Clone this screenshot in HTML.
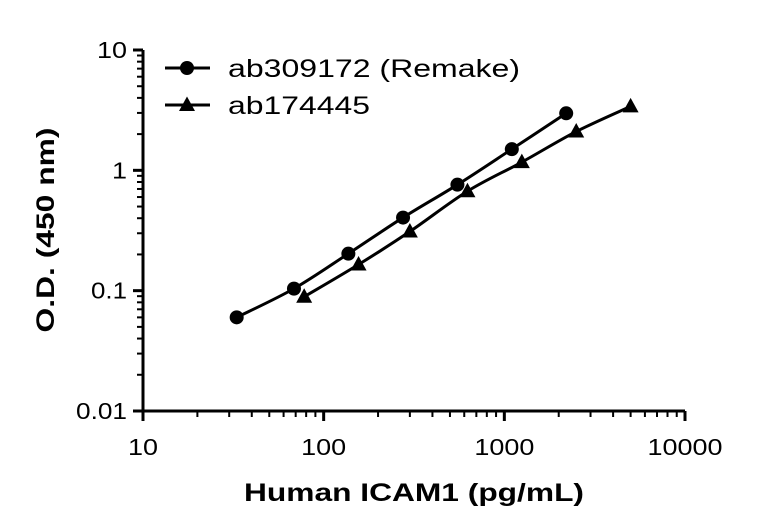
<!DOCTYPE html>
<html><head><meta charset="utf-8"><style>
body{margin:0;background:#fff;}
svg{display:block;font-family:"Liberation Sans",sans-serif;}
</style></head><body>
<svg id="chart" width="768" height="529"></svg>
<script>
const xTicks=[10,100,1000,10000];
const xTickLabels=["10","100","1000","10000"];
const yTicks=[0.01,0.1,1,10];
const yTickLabels=["0.01","0.1","1","10"];
const seriesNames=["ab309172 (Remake)","ab174445"];
const s1x=[33,68.5,137,275,550,1100,2200];
const s1y=[0.06,0.104,0.203,0.405,0.76,1.5,2.98];
const s2x=[78,156,300,625,1250,2500,5000];
const s2y=[0.089,0.165,0.31,0.67,1.17,2.1,3.4];

const NS="http://www.w3.org/2000/svg";
const svg=document.getElementById('chart');
const X0=143,X1=685,Y0=411,Y1=50;
const xs=v=>X0+(Math.log10(v)-1)/3*(X1-X0);
const ys=v=>Y0-(Math.log10(v)+2)/3*(Y0-Y1);
function mk(t,a,p){const e=document.createElementNS(NS,t);for(const k in a)e.setAttribute(k,a[k]);(p||svg).appendChild(e);return e;}
const lw=s=>[...s].reduce((a,c)=>a+(c=='.'?6:15),0);
let e;
e=mk('line',{x1:X0,y1:Y1,x2:X0,y2:Y0+1.5,stroke:'#000','stroke-width':3});

e=mk('line',{x1:X0-1.5,y1:Y0,x2:X1,y2:Y0,stroke:'#000','stroke-width':3});

for(let d=0;d<3;d++){for(let m=2;m<10;m++){
 const xv=Math.pow(10,d+1)*m,yv=Math.pow(10,d-2)*m;
 e=mk('line',{x1:xs(xv),y1:Y0,x2:xs(xv),y2:Y0+6,stroke:'#000','stroke-width':2});
 
 e=mk('line',{x1:X0-6,y1:ys(yv),x2:X0,y2:ys(yv),stroke:'#000','stroke-width':2});
 
}}
xTicks.forEach((v,i)=>{
 e=mk('line',{x1:xs(v),y1:Y0,x2:xs(v),y2:Y0+10,stroke:'#000','stroke-width':3});
 
 e=mk('text',{x:xs(v),y:Y0+44,'text-anchor':'middle','font-size':23,textLength:lw(xTickLabels[i]),lengthAdjust:'spacingAndGlyphs'});e.textContent=xTickLabels[i];
 
});
yTicks.forEach((v,i)=>{
 e=mk('line',{x1:X0-10,y1:ys(v),x2:X0,y2:ys(v),stroke:'#000','stroke-width':3});
 
 e=mk('text',{x:X0-16,y:ys(v)+8,'text-anchor':'end','font-size':23,textLength:lw(yTickLabels[i]),lengthAdjust:'spacingAndGlyphs'});e.textContent=yTickLabels[i];
 
});
e=mk('text',{x:414,y:501,'text-anchor':'middle','font-size':25,'font-weight':'bold',textLength:340,lengthAdjust:'spacingAndGlyphs'});e.textContent='Human ICAM1 (pg/mL)';

e=mk('text',{x:0,y:0,'text-anchor':'middle','font-size':25,'font-weight':'bold',textLength:205,lengthAdjust:'spacingAndGlyphs',transform:'translate(54,230) rotate(-90)'});e.textContent='O.D. (450 nm)';


function path(xa,ya){
 const p=xa.map((x,i)=>[xs(x),ys(ya[i])]);
 let d='M'+p[0][0]+','+p[0][1];
 for(let i=0;i<p.length-1;i++){
  const a=p[Math.max(i-1,0)],b=p[i],c=p[i+1],n=p[Math.min(i+2,p.length-1)];
  d+=' C'+(b[0]+(c[0]-a[0])/6)+','+(b[1]+(c[1]-a[1])/6)+' '+(c[0]-(n[0]-b[0])/6)+','+(c[1]-(n[1]-b[1])/6)+' '+c[0]+','+c[1];
 }
 return d;
}
function tri(x,y,g){return mk('polygon',{points:`${x},${y-8.5} ${x-8},${y+6} ${x+8},${y+6}`,fill:'#000'},g);}
const g1=mk('g',{});
e=mk('path',{d:path(s1x,s1y),fill:'none',stroke:'#000','stroke-width':3},g1);

s1x.forEach((x,i)=>{e=mk('circle',{cx:xs(x),cy:ys(s1y[i]),r:7,fill:'#000'},g1);
 });
const g2=mk('g',{});
e=mk('path',{d:path(s2x,s2y),fill:'none',stroke:'#000','stroke-width':3},g2);

s2x.forEach((x,i)=>{e=tri(xs(x),ys(s2y[i]),g2);
 });
const lg=mk('g',{});
const legLen=[292,142];
[0,1].forEach(i=>{
 const y=i?105:68;
 const it=mk('g',{},lg);
 mk('line',{x1:165,y1:y,x2:210,y2:y,stroke:'#000','stroke-width':3},it);
 if(i==0)mk('circle',{cx:187,cy:y,r:7,fill:'#000'},it);else tri(187,y,it);
 const t=mk('text',{x:228,y:y+9,'font-size':25,textLength:legLen[i],lengthAdjust:'spacingAndGlyphs'},it);t.textContent=seriesNames[i];
});
</script>
</body></html>
